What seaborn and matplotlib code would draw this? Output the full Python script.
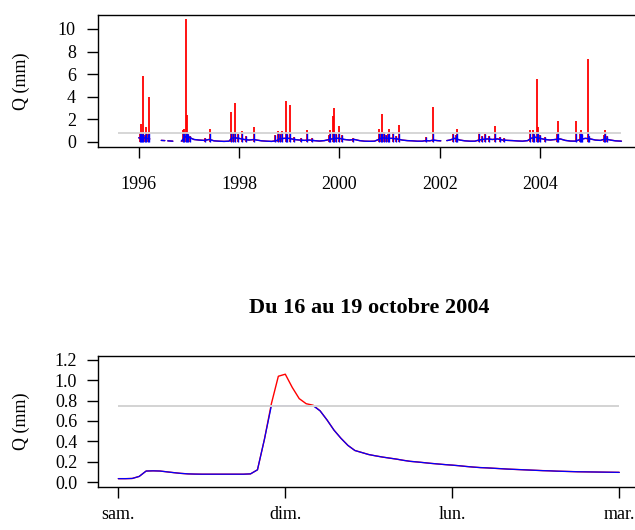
import numpy as np
import pandas as pd
import matplotlib
matplotlib.use("Agg")
import matplotlib.pyplot as plt
import seaborn as sns

# ---------------- data ----------------
threshold = 0.75

# long series (decimal years), baseline with gaps (NaN)
base_years = [1995.58, 1995.99,
              1996.00, 1996.05, 1996.10, 1996.15, 1996.22, 1996.23,
              1996.45, 1996.52, 1996.53, 1996.58, 1996.68, 1996.69,
              1996.85, 1996.90, 1996.95, 1997.00, 1997.05, 1997.10, 1997.20, 1997.30,
              1997.35, 1997.40, 1997.45, 1997.50, 1997.60, 1997.70, 1997.80, 1997.85,
              1997.90, 1998.00, 1998.10, 1998.20, 1998.30, 1998.35, 1998.45, 1998.55,
              1998.65, 1998.75, 1998.80, 1998.90, 1999.00, 1999.10, 1999.20, 1999.30,
              1999.40, 1999.50, 1999.60, 1999.70, 1999.80, 1999.90, 2000.00, 2000.10,
              2000.20, 2000.30, 2000.40, 2000.50, 2000.60, 2000.70, 2000.78, 2000.85,
              2000.95, 2001.05, 2001.15, 2001.25, 2001.35, 2001.45, 2001.55, 2001.65,
              2001.72, 2001.80, 2001.87, 2001.95, 2002.02, 2002.03,
              2002.14, 2002.20, 2002.30, 2002.40, 2002.50, 2002.60, 2002.70, 2002.78,
              2002.85, 2002.95, 2003.05, 2003.15, 2003.25, 2003.35, 2003.45, 2003.55,
              2003.65, 2003.75, 2003.82, 2003.90, 2004.00, 2004.10, 2004.20, 2004.30,
              2004.40, 2004.50, 2004.60, 2004.70, 2004.80, 2004.90, 2005.00, 2005.10,
              2005.20, 2005.30, 2005.40, 2005.50, 2005.62]
nan = np.nan
base_q = [nan, nan,
          0.35, 0.30, 0.35, 0.30, 0.25, nan,
          0.12, 0.10, nan, 0.08, 0.05, nan,
          0.05, 0.30, 0.50, 0.40, 0.30, 0.20, 0.15, 0.12,
          0.15, 0.20, 0.15, 0.08, 0.05, 0.03, 0.05, 0.30,
          0.35, 0.30, 0.20, 0.15, 0.20, 0.15, 0.08, 0.05,
          0.03, 0.10, 0.25, 0.30, 0.30, 0.20, 0.15, 0.12,
          0.15, 0.10, 0.06, 0.10, 0.20, 0.30, 0.30, 0.20,
          0.15, 0.20, 0.10, 0.05, 0.04, 0.05, 0.20, 0.35,
          0.30, 0.30, 0.25, 0.15, 0.10, 0.08, 0.05, 0.05,
          0.10, 0.08, 0.15, 0.10, 0.08, nan,
          0.10, 0.15, 0.30, 0.15, 0.08, 0.05, 0.05, 0.15,
          0.20, 0.25, 0.20, 0.25, 0.15, 0.12, 0.10, 0.07,
          0.05, 0.10, 0.30, 0.40, 0.30, 0.20, 0.15, 0.20,
          0.25, 0.12, 0.06, 0.05, 0.20, 0.30, 0.25, 0.15,
          0.12, 0.25, 0.15, 0.08, 0.05]

# flood peaks (decimal years, Q in mm)
spike_years = [1996.02, 1996.04, 1996.07, 1996.09, 1996.12, 1996.15, 1996.18, 1996.21,
               1996.89, 1996.91, 1996.94, 1996.96, 1996.99, 1997.03, 1997.33, 1997.42,
               1997.84, 1997.87, 1997.91, 1997.97, 1998.06, 1998.14, 1998.30, 1998.72,
               1998.77, 1998.81, 1998.85, 1998.93, 1998.96, 1999.02, 1999.10, 1999.23,
               1999.35, 1999.45, 1999.79, 1999.82, 1999.87, 1999.89, 1999.94, 1999.99,
               2000.06, 2000.28, 2000.79, 2000.82, 2000.85, 2000.88, 2000.93, 2000.96,
               2000.99, 2001.06, 2001.12, 2001.18, 2001.72, 2001.87, 2002.27, 2002.32,
               2002.35, 2002.79, 2002.85, 2002.91, 2002.98, 2003.11, 2003.20, 2003.28,
               2003.80, 2003.85, 2003.88, 2003.93, 2003.95, 2004.00, 2004.10, 2004.33,
               2004.35, 2004.71, 2004.79, 2004.81, 2004.84, 2004.95, 2004.98, 2005.28,
               2005.30, 2005.33]
spike_q = [0.80, 1.55, 0.70, 5.87, 0.60, 1.28, 0.70, 3.95,
           1.00, 1.10, 10.90, 2.40, 0.70, 0.50, 0.35, 1.13,
           2.60, 0.80, 3.40, 0.70, 0.98, 0.50, 1.33, 0.60,
           0.97, 0.70, 0.97, 3.62, 0.70, 3.30, 0.40, 0.30,
           1.00, 0.30, 0.60, 1.00, 2.29, 2.97, 0.70, 1.40,
           0.60, 0.30, 1.10, 0.80, 2.46, 0.90, 0.60, 0.70,
           1.10, 0.90, 0.50, 1.48, 0.40, 3.08, 0.70, 0.60,
           1.10, 0.90, 0.50, 0.70, 0.50, 1.37, 0.40, 0.30,
           1.00, 1.00, 0.70, 5.52, 1.30, 0.60, 0.40, 0.70,
           1.84, 1.84, 0.90, 1.00, 0.70, 7.33, 0.50, 0.60,
           1.00, 0.50]

year_ticks = [1996, 1998, 2000, 2002, 2004]

# hourly discharge 16 -> 19 October 2004
event_hours = list(range(73))
event_q = [0.033, 0.033, 0.035, 0.055, 0.108, 0.110, 0.108, 0.100, 0.092, 0.085,
           0.080, 0.078, 0.077, 0.077, 0.077, 0.077, 0.077, 0.077, 0.077, 0.080,
           0.120, 0.420, 0.770, 1.040, 1.060, 0.930, 0.820, 0.770, 0.755, 0.700,
           0.610, 0.510, 0.430, 0.360, 0.310, 0.290, 0.270, 0.257, 0.245, 0.235,
           0.225, 0.213, 0.203, 0.197, 0.190, 0.183, 0.177, 0.171, 0.166, 0.160,
           0.153, 0.147, 0.142, 0.139, 0.135, 0.131, 0.127, 0.124, 0.121, 0.118,
           0.115, 0.112, 0.110, 0.107, 0.105, 0.103, 0.101, 0.100, 0.099, 0.098,
           0.097, 0.096, 0.095]
day_ticks = [0, 24, 48, 72]
day_labels = ["sam.", "dim.", "lun.", "mar."]
event_title = "Du 16 au 19 octobre 2004"

# ---------------- style ----------------
sns.set_style("ticks")
plt.rcParams["font.family"] = ["Liberation Serif", "DejaVu Serif"]
plt.rcParams["font.size"] = 13
plt.rcParams["axes.linewidth"] = 1.0
plt.rcParams["xtick.major.size"] = 8
plt.rcParams["ytick.major.size"] = 8
plt.rcParams["xtick.major.width"] = 1.0
plt.rcParams["ytick.major.width"] = 1.0
plt.rcParams["xtick.color"] = "black"
plt.rcParams["ytick.color"] = "black"
plt.rcParams["xtick.labelcolor"] = "black"
plt.rcParams["ytick.labelcolor"] = "black"
plt.rcParams["axes.edgecolor"] = "black"
plt.rcParams["axes.labelcolor"] = "black"
plt.rcParams["text.color"] = "black"

RED = "#FF0000"
BLUE = "#0000FF"
GREY = "#D3D3D3"

fig = plt.figure(figsize=(6.35, 5.30), dpi=100)
W, H = 635.0, 530.0

def box(l, t, r, b):
    return [l / W, 1 - b / H, (r - l) / W, (b - t) / H]

ax1 = fig.add_axes(box(98, 15, 640, 146.7))
ax2 = fig.add_axes(box(98, 355.7, 640, 486.7))

# ---- top: long series ----
df = pd.DataFrame({"year": base_years, "q": base_q})
df["seg"] = df["q"].isna().cumsum()
df = df.dropna()
df["qb"] = np.minimum(df["q"], threshold)
sns.lineplot(data=df, x="year", y="q", units="seg", estimator=None, color=RED,
             lw=1.0, ax=ax1, legend=False)
sk = pd.DataFrame({"year": spike_years, "q": spike_q})
ax1.vlines(sk["year"], 0, sk["q"], colors=RED, lw=1.3)
ax1.vlines(sk["year"], 0, np.minimum(sk["q"], threshold), colors=BLUE, lw=1.0)
sns.lineplot(data=df, x="year", y="qb", units="seg", estimator=None, color=BLUE,
             lw=1.0, ax=ax1, legend=False)
ax1.hlines(threshold, base_years[0], base_years[-1], colors=GREY, lw=1.3, zorder=5)

ax1.set_xlim(1995.189, 2005.99)
ax1.set_ylim(-0.44, 11.24)
ax1.set_xticks(year_ticks)
ax1.set_xticklabels([str(y) for y in year_ticks])
ax1.set_yticks([0, 2, 4, 6, 8, 10])
ax1.tick_params(axis="x", pad=13)
ax1.tick_params(axis="y", pad=8)
ax1.set_xlabel("")
ax1.set_ylabel("Q (mm)")

# ---- bottom: flood event ----
ev = pd.DataFrame({"h": event_hours, "q": event_q})
ev["qb"] = np.minimum(ev["q"], threshold)
sns.lineplot(data=ev, x="h", y="q", color=RED, lw=1.0, ax=ax2)
sns.lineplot(data=ev, x="h", y="qb", color=BLUE, lw=0.9, ax=ax2)
ax2.hlines(threshold, event_hours[0], event_hours[-1], colors=GREY, lw=1.4, zorder=5)
ax2.set_xlim(-2.92, 74.98)
ax2.set_ylim(-0.046, 1.242)
ax2.set_xticks(day_ticks)
ax2.set_xticklabels(day_labels)
ax2.set_yticks([0.0, 0.2, 0.4, 0.6, 0.8, 1.0, 1.2])
ax2.set_yticklabels([f"{v:.1f}" for v in [0.0, 0.2, 0.4, 0.6, 0.8, 1.0, 1.2]])
ax2.tick_params(axis="x", pad=6)
ax2.tick_params(axis="y", pad=7)
ax2.set_xlabel("")
ax2.set_ylabel("Q (mm)")
ax2.text(0.5, 1 + (355.7 - 307.5) / 131.0, event_title, transform=ax2.transAxes,
         ha="center", va="center", fontsize=16, fontweight="bold", color="black")

for ax in (ax1, ax2):
    for s in ax.spines.values():
        s.set_visible(True)
        s.set_linewidth(1.0)
        s.set_color("black")
    ax.yaxis.label.set_va("center")
    ax.yaxis.set_label_coords((21 - 98) / 542.0, 0.5)

fig.savefig("out.png", dpi=100)
